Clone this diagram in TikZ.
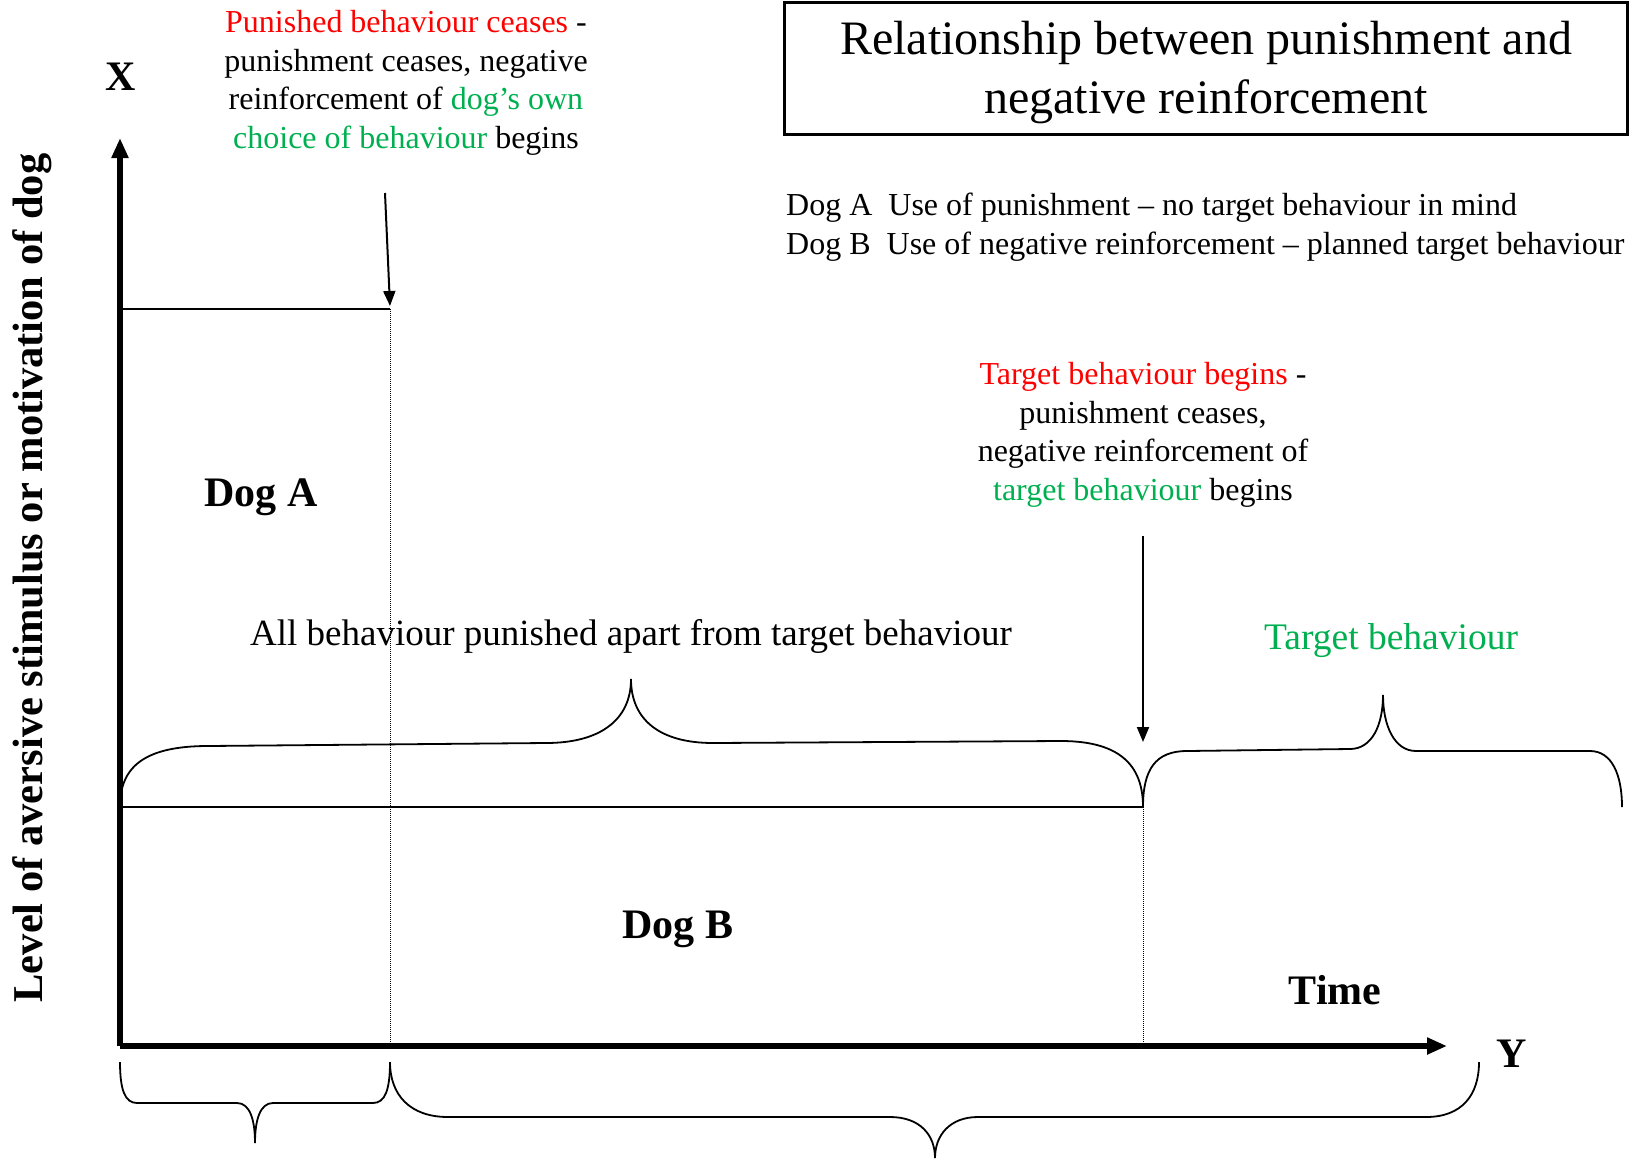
\documentclass[tikz,border=0pt]{standalone}
\usepackage{fontspec}
\setmainfont{Liberation Serif}
\usetikzlibrary{arrows.meta}
\definecolor{pptred}{RGB}{255,0,0}
\definecolor{pptgreen}{RGB}{0,176,80}
\begin{document}
\begin{tikzpicture}[x=1pt,y=1pt,yscale=-1,
	axis/.style={line width=5.5pt,-{Triangle[length=20pt,width=16pt]}},
	level/.style={line width=2pt},
	guide/.style={line width=1pt,densely dotted},
	pointer/.style={line width=2pt,-{Triangle[length=15pt,width=12pt]}},
	curly/.style={line width=1.8pt},
	note/.style={inner sep=0pt,align=center,font=\fontsize{32}{38.5}\selectfont},
	big/.style={inner sep=0pt,font=\fontsize{42}{48}\selectfont\bfseries}]
	\useasboundingbox (0,0) rectangle (1632,1167);
	
	%Coordinates of the chart
	\coordinate (O) at (120,1046);
	\coordinate (yTop) at (120,138);
	\coordinate (xEnd) at (1447,1046);
	\coordinate (aStart) at (120,309);
	\coordinate (aEnd) at (390,309);
	\coordinate (aFoot) at (390,1046);
	\coordinate (bStart) at (120,807);
	\coordinate (bEnd) at (1143,807);
	\coordinate (bFoot) at (1143,1046);
	\coordinate (ceaseTop) at (385,193);
	\coordinate (targetTop) at (1143,536);
	\coordinate (targetTip) at (1143,742);
	
	%Axes
	\draw [axis] (O) -- (yTop);
	\draw [axis] (O) -- (xEnd);
	%Straight Lines
	\draw [level] (aStart) -- (aEnd);
	\draw [level] (bStart) -- (bEnd);
	\draw [guide] (aEnd) -- (aFoot);
	\draw [guide] (bEnd) -- (bFoot);
	%Arrows
	\draw [pointer] (ceaseTop) -- ([yshift=-3pt]aEnd);
	\draw [pointer] (targetTop) -- (targetTip);
	
	%Shape: Brace (all behaviour punished)
	\draw [curly] (bStart) .. controls (120,770) and (140,746) .. (208,746) -- (546,743) .. controls (600,743) and (631,720) .. (631,679) .. controls (631,720) and (660,743) .. (713,743) -- (1061,741) .. controls (1125,741) and (1143,770) .. (bEnd);
	%Shape: Brace (target behaviour)
	\draw [curly] (bEnd) .. controls (1143,770) and (1155,751) .. (1187,751) -- (1350,749) .. controls (1372,749) and (1383,725) .. (1383,695) .. controls (1383,725) and (1394,751) .. (1416,751) -- (1590,751) .. controls (1612,751) and (1622,775) .. (1622,807);
	%Shape: Brace (dog A time)
	\draw [curly] (120,1062) .. controls (120,1090) and (125,1103) .. (137,1103) -- (237,1103) .. controls (250,1103) and (255,1120) .. (255,1143) .. controls (255,1120) and (260,1103) .. (273,1103) -- (373,1103) .. controls (385,1103) and (390,1090) .. (390,1062);
	%Shape: Brace (dog B time)
	\draw [curly] (390,1062) .. controls (390,1095) and (410,1117) .. (448,1117) -- (890,1117) .. controls (920,1117) and (935,1135) .. (935,1158) .. controls (935,1135) and (950,1117) .. (978,1117) -- (1426,1117) .. controls (1462,1117) and (1479,1095) .. (1479,1062);
	
	% Title box and text
	\node [draw,line width=3pt,minimum width=843pt,minimum height=132pt] (title) at (1206,68) {};
	\node [inner sep=0pt,align=center,font=\fontsize{48}{59}\selectfont] (titleText) at ([yshift=5pt]title.center) {Relationship between punishment and\\negative reinforcement};
	% Text Node
	\node [anchor=west,inner sep=0pt,align=left,font=\fontsize{32}{39}\selectfont] (legend) at (786,227) {Dog A\ \ Use of punishment -- no target behaviour in mind\\Dog B\ \ Use of negative reinforcement -- planned target behaviour};
	% Text Node
	\node [note] (ceaseNote) at (406,83) {\textcolor{pptred}{Punished behaviour ceases} -\\punishment ceases, negative\\reinforcement of \textcolor{pptgreen}{dog’s own}\\\textcolor{pptgreen}{choice of behaviour} begins};
	% Text Node
	\node [note] (targetNote) at (1143,435) {\textcolor{pptred}{Target behaviour begins} -\\punishment ceases,\\negative reinforcement of\\\textcolor{pptgreen}{target behaviour} begins};
	% Text Node
	\node [inner sep=0pt,font=\fontsize{37}{44}\selectfont] (allLbl) at (631,636) {All behaviour punished apart from target behaviour};
	% Text Node
	\node [inner sep=0pt,text=pptgreen,font=\fontsize{37.5}{44}\selectfont] (targetLbl) at (1391,641) {Target behaviour};
	% Text Node
	\node [big] (dogA) at (261,497) {Dog A};
	\node [big] (dogB) at (678,929) {Dog B};
	\node [big] (timeLbl) at (1335,990) {Time};
	\node [big] (xLbl) at (121,77) {X};
	\node [big] (yLbl) at (1512,1054) {Y};
	% Text Node
	\node [inner sep=0pt,rotate=90,font=\fontsize{42.5}{48}\selectfont\bfseries] (levelLbl) at (32,578) {Level of aversive stimulus or motivation of dog};
\end{tikzpicture}
\end{document}
